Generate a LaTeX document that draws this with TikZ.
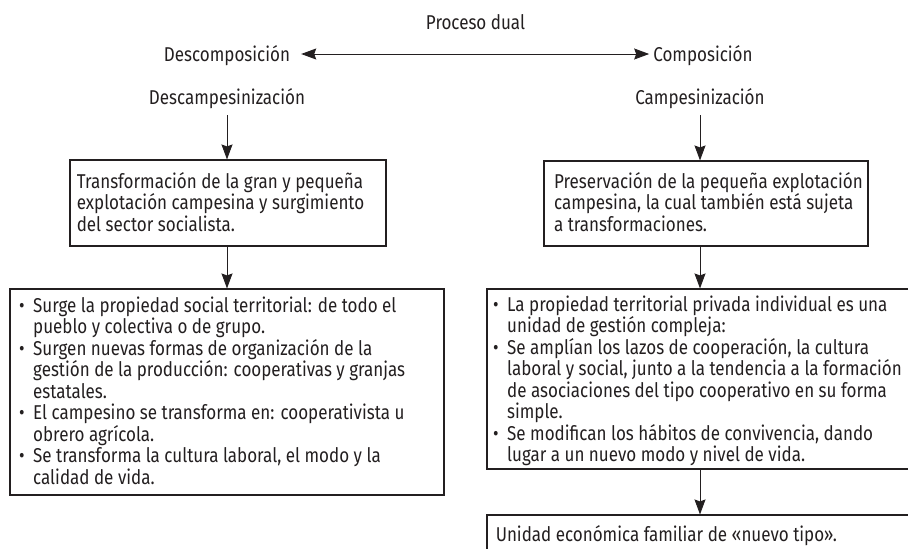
\documentclass[tikz,border=0pt]{standalone}
\usepackage{fontspec}
\setmainfont[FakeStretch=0.85]{Fira Sans}
\usetikzlibrary{arrows.meta}
\definecolor{ink}{RGB}{35,31,32}
\newcommand\bulletmark{\makebox[14pt][l]{•}}
\newcommand\itemgap{\hspace*{14pt}}
\newcommand\firstline{\rule{0pt}{16pt}}
\newcommand\diafont{\fontsize{20}{21.5}\selectfont}
\newlength\wTrans \newlength\wPres \newlength\wProp \newlength\wUni
\begin{document}
\settowidth\wTrans{\diafont Trans}%
\settowidth\wPres{\diafont Pr}%
\settowidth\wProp{\diafont La propi}%
\settowidth\wUni{\diafont Unidad económic}%
\begin{tikzpicture}[x=1pt,y=-1pt,
  every node/.style={font=\diafont, text=ink},
  boxstyle/.style={draw=ink, line width=1.1pt, inner sep=0pt},
  txt/.style={anchor=north west, align=left, inner sep=0pt},
  lbl/.style={anchor=base, inner xsep=0pt, inner ysep=7pt},
  tip/.tip={Stealth[length=15pt,width=11pt,inset=2pt]},
  arr/.style={draw=ink, line width=0.9pt, -tip},
  darr/.style={draw=ink, line width=0.9pt, tip-tip}
]
\useasboundingbox (0,0) rectangle (908,549);
\clip (0,0) rectangle (908,549);

% top labels
\node[lbl] (proc) at (475.5,29) {Proceso dual};
\node[lbl, inner ysep=0pt] (dcomp) at (227,61) {Descomposición};
\node[lbl, inner ysep=0pt] (comp) at (703,61) {Composición};
\coordinate (axis) at (0,54);
\draw[darr] ([xshift=11pt]dcomp.east |- axis) -- ([xshift=-4pt]comp.west |- axis);

\node[lbl] (desc) at (227,104) {Descampesinización};
\node[lbl] (camp) at (700,104) {Campesinización};

% boxes
\node[boxstyle, minimum width=316pt, minimum height=86pt] (L1) at (228,203) {};
\node[boxstyle, minimum width=434pt, minimum height=206pt] (L2) at (227,392) {};
\node[boxstyle, minimum width=324pt, minimum height=85pt] (R1) at (706,203.5) {};
\node[boxstyle, minimum width=434pt, minimum height=180pt] (R2) at (704,379) {};
\node[boxstyle, minimum width=434pt, minimum height=60pt] (R3) at (704,545) {};

% texts
\node[txt] (L1t) at ([xshift=-\the\wTrans]118,172) {\firstline Transformación de la gran y pequeña\\explotación campesina y surgimiento\\del sector socialista.};
\node[txt] (R1t) at ([xshift=-\the\wPres]570,172) {\firstline Preservación de la pequeña explotación\\campesina, la cual también está sujeta\\a transformaciones.};
\node[txt] (L2t) at (19,296) {\firstline\bulletmark Surge la propiedad social territorial: de todo el\\
\itemgap pueblo y colectiva o de grupo.\\
\bulletmark Surgen nuevas formas de organización de la\\
\itemgap gestión de la producción: cooperativas y granjas\\
\itemgap estatales.\\
\bulletmark El campesino se transforma en: cooperativista u\\
\itemgap obrero agrícola.\\
\bulletmark Se transforma la cultura laboral, el modo y la\\
\itemgap calidad de vida.};
\node[txt] (R2t) at ([xshift=-\the\wProp]556,295) {\firstline\bulletmark La propiedad territorial privada individual es una\\
\itemgap unidad de gestión compleja:\\
\bulletmark Se amplían los lazos de cooperación, la cultura\\
\itemgap laboral y social, junto a la tendencia a la formación\\
\itemgap de asociaciones del tipo cooperativo en su forma\\
\itemgap simple.\\
\bulletmark Se modifican los hábitos de convivencia, dando\\
\itemgap lugar a un nuevo modo y nivel de vida.};
\node[txt] (R3t) at ([xshift=-\the\wUni]630,525) {\firstline Unidad económica familiar de «nuevo tipo».};

% connectors
\draw[arr] (desc.south) -- (desc.south |- L1.north);
\draw[arr] (desc |- L1.south) -- (desc |- L2.north);
\draw[arr] (camp.south) -- (camp.south |- R1.north);
\draw[arr] (camp |- R1.south) -- (camp |- R2.north);
\draw[arr] (camp |- R2.south) -- (camp |- R3.north);
\end{tikzpicture}
\end{document}
